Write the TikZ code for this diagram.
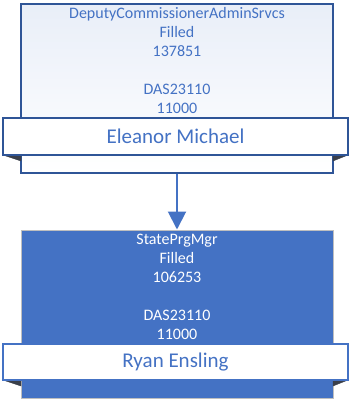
\documentclass[tikz,border=0pt]{standalone}
\usepackage{fontspec}
\setmainfont{Carlito}
\usetikzlibrary{arrows.meta}

\definecolor{orgblue}{HTML}{4472C4}
\definecolor{orgdark}{HTML}{2F5597}
\definecolor{orgfold}{HTML}{3A3F4A}

\tikzset{
  posbox/.style={draw=orgdark, line width=1.5pt, top color=orgblue!12, bottom color=white,
    minimum width=312pt, minimum height=169pt, inner sep=0pt},
  posboxfilled/.style={draw=lightgray, line width=1pt, fill=orgblue,
    minimum width=312pt, minimum height=168pt, inner sep=0pt},
  namebanner/.style={draw=orgdark, line width=1.2pt, fill=white, text=orgblue,
    minimum width=345pt, minimum height=37pt, inner sep=0pt,
    font=\fontsize{21}{24}\selectfont},
  posinfo/.style={align=center, anchor=north, inner sep=0pt,
    font=\fontsize{16}{19}\selectfont},
  fold/.style={fill=orgfold, draw=orgfold, line width=0.4pt}
}

\begin{document}
\begin{tikzpicture}[x=1pt, y=-1pt]

    \useasboundingbox (0, 0) rectangle (351, 399);

    % top position
    \node[posbox] (top) at (177, 88.5) {};
    \node[posinfo, text=orgblue] (topinfo) at (177, 7.5) {DeputyCommissionerAdminSrvcs\\Filled\\137851\\[19pt]DAS23110\\11000};
    \fill[fold] (3, 155) -- (21, 155) -- (21, 161) -- cycle;
    \fill[fold] (348, 155) -- (333, 155) -- (333, 161) -- cycle;
    \node[namebanner] (topname) at (175.5, 136.5) {Eleanor Michael};

    % bottom position
    \node[posboxfilled] (bottom) at (177, 314) {};
    \node[posinfo, text=white] (bottominfo) at (177, 233.5) {StatePrgMgr\\Filled\\106253\\[19pt]DAS23110\\11000};
    \fill[fold] (3, 380) -- (21, 380) -- (21, 386) -- cycle;
    \fill[fold] (348, 380) -- (333, 380) -- (333, 386) -- cycle;
    \node[namebanner, draw=orgblue, minimum height=36pt] (bottomname) at (175.5, 362) {Ryan Ensling};

    \draw[color=orgblue, line width=2pt, -{Triangle[length=18pt, width=18pt]}] (top.south) -- (bottom.north);

\end{tikzpicture}
\end{document}
